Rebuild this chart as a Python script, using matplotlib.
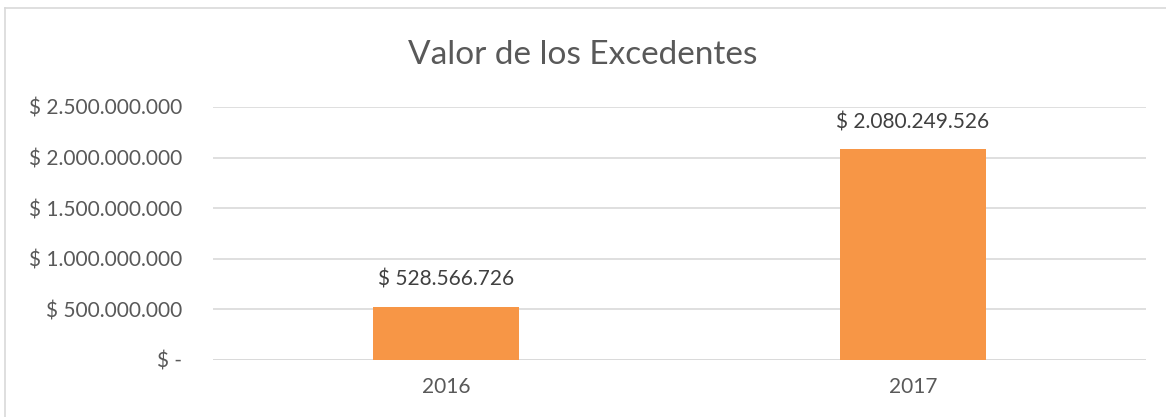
import matplotlib.pyplot as plt
from matplotlib.lines import Line2D


plt.rcParams['font.family'] = ['Lato', 'DejaVu Sans']

# datos
years = ['2016', '2017']
excedentes = [528566726, 2080249526]
y_ticks = [0, 500000000, 1000000000, 1500000000, 2000000000, 2500000000]


def pesos(v):
    # formato contable estilo Excel: $ 2.500.000.000 / $ -
    if v == 0:
        return '$ -'
    return '$ ' + f'{int(v):,}'.replace(',', '.')


fig = plt.figure(figsize=(11.66, 4.17), dpi=100)
ax = fig.add_axes([213 / 1166, 1 - 360 / 417, 933 / 1166, 253 / 417])

x = range(len(years))
ax.bar(x, excedentes, width=0.313, color='#F79646', zorder=3)

for i, v in zip(x, excedentes):
    ax.annotate(pesos(v), (i, v), xytext=(0, 12), textcoords='offset points',
                ha='center', va='bottom', fontsize=15, color='#404040')

ax.set_xlim(-0.5, len(years) - 0.5)
ax.set_ylim(0, 2500000000)
ax.set_xticks(list(x))
ax.set_xticklabels(years)
ax.set_yticks(y_ticks)
ax.set_yticklabels([pesos(t) for t in y_ticks])
ax.tick_params(axis='both', length=0, labelsize=15, labelcolor='#595959')
ax.tick_params(axis='y', pad=22)
ax.tick_params(axis='x', pad=12)
ax.grid(axis='y', color='#D9D9D9', linewidth=1.2, zorder=0)
for s in ax.spines.values():
    s.set_visible(False)
ax.axhline(0, color='#D9D9D9', linewidth=1.2, zorder=2)

fig.text(0.5, 1 - 55 / 417, 'Valor de los Excedentes', ha='center', va='center',
         fontsize=24, color='#595959')

# borde del grafico (solo arriba e izquierda visibles)
fig.lines.append(Line2D([5 / 1166, 5 / 1166], [0, 1 - 8 / 417],
                        transform=fig.transFigure, color='#D9D9D9', linewidth=1.2))
fig.lines.append(Line2D([5 / 1166, 1], [1 - 8 / 417, 1 - 8 / 417],
                        transform=fig.transFigure, color='#D9D9D9', linewidth=1.2))

fig.savefig('out.png', dpi=100)
